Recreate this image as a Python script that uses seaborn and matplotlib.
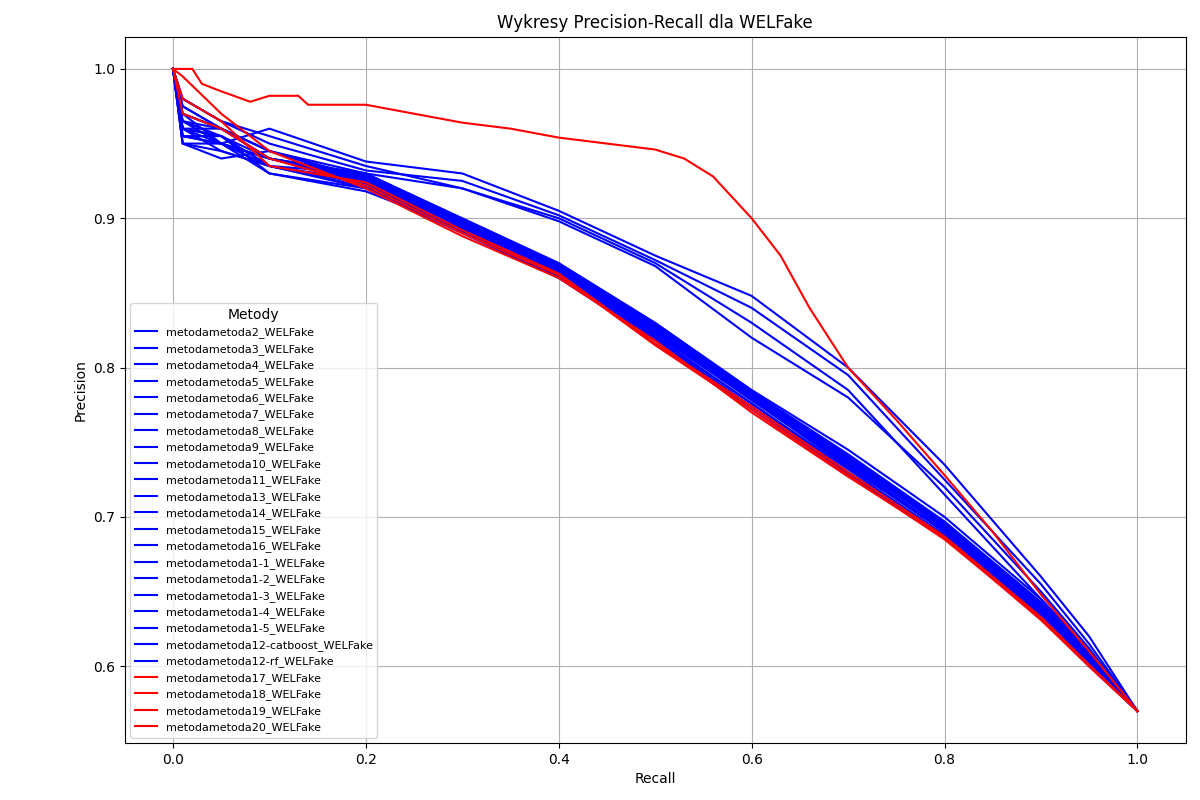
import matplotlib
matplotlib.use("Agg")
import matplotlib.pyplot as plt
import seaborn as sns

# wspolna siatka recall dla wiekszosci krzywych
recall = [0, 0.01, 0.05, 0.1, 0.2, 0.3, 0.4, 0.5, 0.6, 0.7, 0.8, 0.9, 0.95, 1.0]

blue_names = ["metodametoda%d_WELFake" % i for i in [2, 3, 4, 5, 6, 7, 8, 9, 10, 11, 13, 14, 15, 16]] + \
    ["metodametoda1-%d_WELFake" % i for i in range(1, 6)] + \
    ["metodametoda12-catboost_WELFake", "metodametoda12-rf_WELFake"]
red_names = ["metodametoda17_WELFake", "metodametoda18_WELFake",
             "metodametoda19_WELFake", "metodametoda20_WELFake"]

blue_prec = [
    [1.0, 0.96, 0.955, 0.935, 0.925, 0.895, 0.865, 0.825, 0.78, 0.735, 0.69, 0.638, 0.605, 0.57],
    [1.0, 0.97, 0.96, 0.94, 0.928, 0.898, 0.868, 0.828, 0.782, 0.74, 0.695, 0.64, 0.607, 0.57],
    [1.0, 0.95, 0.95, 0.96, 0.938, 0.93, 0.905, 0.875, 0.848, 0.80, 0.735, 0.66, 0.62, 0.57],
    [1.0, 0.975, 0.96, 0.945, 0.925, 0.892, 0.862, 0.82, 0.776, 0.73, 0.688, 0.635, 0.603, 0.57],
    [1.0, 0.96, 0.945, 0.935, 0.92, 0.89, 0.86, 0.818, 0.772, 0.728, 0.686, 0.632, 0.6, 0.57],
    [1.0, 0.98, 0.965, 0.95, 0.932, 0.925, 0.902, 0.872, 0.84, 0.795, 0.725, 0.655, 0.615, 0.57],
    [1.0, 0.955, 0.95, 0.94, 0.93, 0.9, 0.87, 0.83, 0.785, 0.745, 0.70, 0.645, 0.61, 0.57],
    [1.0, 0.965, 0.955, 0.93, 0.918, 0.893, 0.864, 0.822, 0.779, 0.733, 0.692, 0.637, 0.604, 0.57],
    [1.0, 0.95, 0.94, 0.945, 0.93, 0.92, 0.90, 0.87, 0.83, 0.785, 0.715, 0.645, 0.61, 0.57],
    [1.0, 0.96, 0.96, 0.94, 0.926, 0.896, 0.866, 0.826, 0.781, 0.738, 0.693, 0.639, 0.606, 0.57],
    [1.0, 0.98, 0.965, 0.955, 0.935, 0.92, 0.898, 0.868, 0.82, 0.78, 0.72, 0.65, 0.612, 0.57],
    [1.0, 0.955, 0.95, 0.935, 0.93, 0.899, 0.869, 0.829, 0.784, 0.742, 0.697, 0.643, 0.609, 0.57],
    [1.0, 0.965, 0.96, 0.94, 0.924, 0.895, 0.865, 0.824, 0.78, 0.736, 0.691, 0.636, 0.604, 0.57],
    [1.0, 0.97, 0.95, 0.93, 0.92, 0.891, 0.861, 0.819, 0.774, 0.729, 0.687, 0.633, 0.601, 0.57],
    [1.0, 0.96, 0.955, 0.94, 0.928, 0.897, 0.867, 0.827, 0.783, 0.739, 0.694, 0.641, 0.607, 0.57],
    [1.0, 0.95, 0.945, 0.935, 0.921, 0.893, 0.862, 0.823, 0.778, 0.734, 0.69, 0.636, 0.603, 0.57],
    [1.0, 0.975, 0.96, 0.945, 0.927, 0.896, 0.866, 0.826, 0.782, 0.737, 0.693, 0.64, 0.606, 0.57],
    [1.0, 0.96, 0.95, 0.94, 0.925, 0.894, 0.864, 0.825, 0.779, 0.735, 0.69, 0.637, 0.604, 0.57],
    [1.0, 0.955, 0.955, 0.935, 0.923, 0.892, 0.863, 0.821, 0.776, 0.732, 0.688, 0.634, 0.602, 0.57],
    [1.0, 0.965, 0.95, 0.94, 0.929, 0.898, 0.868, 0.828, 0.783, 0.741, 0.696, 0.642, 0.608, 0.57],
    [1.0, 0.97, 0.96, 0.945, 0.926, 0.895, 0.865, 0.823, 0.779, 0.734, 0.69, 0.636, 0.603, 0.57],
]

# metodametoda17 ma wlasna siatke (krzywa odstajaca w gore)
red1_recall = [0, 0.02, 0.03, 0.05, 0.08, 0.1, 0.13, 0.14, 0.2, 0.25, 0.3, 0.35, 0.4, 0.45, 0.5,
               0.53, 0.56, 0.6, 0.63, 0.66, 0.7, 0.75, 0.8, 0.85, 0.9, 0.95, 1.0]
red1_prec = [1.0, 1.0, 0.99, 0.985, 0.978, 0.982, 0.982, 0.976, 0.976, 0.97, 0.964, 0.96, 0.954,
             0.95, 0.946, 0.94, 0.928, 0.9, 0.875, 0.84, 0.8, 0.765, 0.728, 0.69, 0.648, 0.61, 0.57]
red_prec = [
    [1.0, 0.97, 0.96, 0.94, 0.922, 0.89, 0.862, 0.815, 0.772, 0.728, 0.685, 0.632, 0.6, 0.57],
    [1.0, 0.995, 0.97, 0.945, 0.92, 0.888, 0.86, 0.818, 0.77, 0.727, 0.686, 0.631, 0.6, 0.57],
    [1.0, 0.98, 0.965, 0.935, 0.924, 0.892, 0.863, 0.816, 0.774, 0.73, 0.687, 0.633, 0.601, 0.57],
]

fig, ax = plt.subplots(figsize=(12, 8), dpi=100)

for name, prec in zip(blue_names, blue_prec):
    sns.lineplot(x=recall, y=prec, color="blue", label=name, ax=ax, sort=False, estimator=None)

sns.lineplot(x=red1_recall, y=red1_prec, color="red", label=red_names[0], ax=ax, sort=False, estimator=None)
for name, prec in zip(red_names[1:], red_prec):
    sns.lineplot(x=recall, y=prec, color="red", label=name, ax=ax, sort=False, estimator=None)

ax.set_xlabel("Recall")
ax.set_ylabel("Precision")
ax.set_title("Wykresy Precision-Recall dla WELFake")
ax.grid(True)
ax.legend(title="Metody", fontsize=8, loc="lower left")

fig.subplots_adjust(left=0.104, right=0.988, top=0.954, bottom=0.071)
plt.savefig("out.png")
